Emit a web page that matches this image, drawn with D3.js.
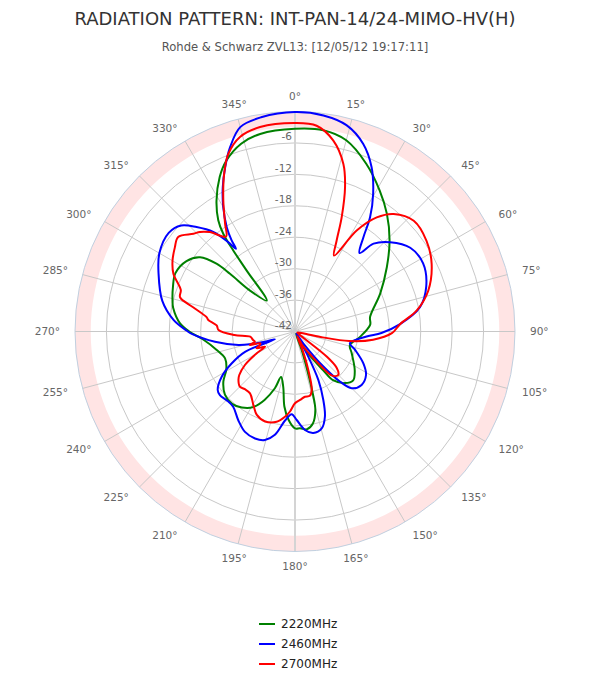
<!DOCTYPE html>
<html>
<head>
<meta charset="utf-8">
<script src="https://cdn.jsdelivr.net/npm/d3@7"></script>
<style>
  html, body { margin: 0; padding: 0; background: #fff; }
  svg { display: block; font-family: "DejaVu Sans", sans-serif; }
</style>
</head>
<body>
<svg id="chart" width="590" height="688"></svg>
<script>
// ---------- data ----------
const titleText = "RADIATION PATTERN: INT-PAN-14/24-MIMO-HV(H)";
const subtitleText = "Rohde & Schwarz ZVL13: [12/05/12 19:17:11]";

const seriesNames = ["2220MHz", "2460MHz", "2700MHz"];
const seriesColors = ["#008000", "#0000ff", "#ff0000"];

const radialTicks = [-42, -36, -30, -24, -18, -12, -6];
const radialMin = -42, radialMax = 0;
const plotBand = [-3, 0];
const angleTicks = [0,15,30,45,60,75,90,105,120,135,150,165,180,195,210,225,240,255,270,285,300,315,330,345];

const angles2220 = [0,8,15,23,31,38,46,55,66,79,85,95,104,111,123,130,136,142,144,150,156,160,162.5,164,165.5,169,173,177,180,184,188,192,197,199.5,204,209,215,221,228,235,241,249,257,265,270,274,281,284,290,296,303,308,310.8,311.6,312.3,317.6,321.6,322.7,323.7,325.4,329,334,338,344,350];
const db2220 = [-3.3,-3.2,-4.2,-7.2,-10.6,-13.5,-16.9,-20.6,-24.2,-27.4,-27.6,-29.6,-31.2,-30.4,-28.4,-27.5,-28.3,-30.2,-32.9,-37.6,-41.5,-38.5,-34,-29.7,-26.5,-24.1,-23.2,-23.5,-23.5,-25,-27.5,-31.2,-32.9,-30.5,-27.7,-25.5,-24.3,-23.7,-24,-25.3,-27,-27.7,-26.6,-24.4,-21.8,-20,-18.3,-17.9,-17.2,-16.6,-17.3,-19,-22.2,-25.4,-30.4,-34,-27.1,-22.6,-18.9,-16.2,-12.9,-9.2,-6.9,-4.7,-3.7];

const angles2460 = [0,7.5,14,20,25,29.6,33.3,36,39.4,41.8,46.8,54,62,71,79,86,91,94,102,107,115,121.5,128.7,135,138,141,145,150,152.2,154.3,157.5,160.6,164.6,169.8,174.2,178.9,182.3,186.4,191,195.5,200.5,206.5,212.6,219.4,224.9,229.7,232.9,238.4,243.3,247.8,248.7,251.2,253.9,256.6,262.7,268.5,270.5,275.5,283,293,300,308,313,316.7,320.6,323.2,324.5,325.2,326.8,330,333.4,337,340.6,345,351];
const db2460 = [-0.1,-0.4,-1.4,-3.9,-7.4,-11.8,-15.9,-19.8,-22.6,-19.5,-17.1,-14.8,-14.3,-15.5,-17.7,-21.9,-25.5,-28.3,-31.3,-30,-27.6,-26.1,-25.7,-26.7,-29.1,-33.4,-39.2,-41.5,-36.6,-31.7,-27.9,-24.8,-22.8,-22.3,-23.1,-25.1,-26.2,-24.9,-21.9,-20.5,-20.2,-20.6,-21.9,-23.4,-23.5,-23.2,-23.5,-25.6,-28.5,-31.7,-37.9,-35.9,-33.4,-30.9,-26.6,-22.4,-21.3,-18.7,-16,-13.7,-12.1,-11.4,-12.3,-14.6,-17.4,-20.7,-22.6,-20.8,-18.2,-14.6,-11.2,-7.9,-4.7,-1.6,-0.6];

const angles2700 = [0,6,11.3,16.1,19.1,22.2,24.6,27.2,31.4,35.6,40,47,55.4,63.7,73,80.2,86,91,96,100,102,105,115,125,128.3,131,135,140,143.3,147,151.4,155,158,160.9,164,167,171.3,175.8,180,183.6,186.7,191.5,198.4,204.6,209.6,216,221,225,229.5,232,236.2,240.4,243.1,246.3,249,251.4,253.3,255.7,259,263.4,266.7,271.1,274.4,277.6,279.2,283.4,286.6,290,295.4,300,305,309,313.9,316.3,319.4,324,327,331.3,335.8,339.4,344.2,350.3];
const db2700 = [-2.2,-2.5,-4.8,-8.7,-12.8,-18.4,-22.9,-25.7,-19.4,-15.2,-12.7,-11,-11.5,-12.9,-15.4,-18.4,-21.9,-23.5,-27,-31.5,-37,-41,-41.5,-41,-34.3,-31.5,-30.3,-31,-34,-37,-38.7,-41,-38,-34.2,-30.4,-29.4,-29.4,-28.9,-28.3,-26.7,-25.6,-24.4,-23.9,-24.5,-25.9,-27.4,-27.4,-27.1,-27.8,-28.5,-30.5,-33.6,-35.6,-34,-34.8,-35,-33,-34.1,-33.8,-33.4,-30.4,-27.4,-27,-25.3,-24.9,-22,-19.1,-18.8,-16.3,-15,-14,-13.3,-15.1,-15.7,-17,-19.6,-17.5,-13.5,-9,-5.8,-3.4,-2.4];

const seriesAngles = [angles2220, angles2460, angles2700];
const seriesValues = [db2220, db2460, db2700];

// ---------- layout ----------
const cx = 295, cy = 331.5, R = 220, labelR = 235;
const svg = d3.select("#chart");

const r = d3.scaleLinear().domain([radialMin, radialMax]).range([0, R]).clamp(true);
const toRad = d => d * Math.PI / 180;

// title
svg.append("text").attr("x", 295).attr("y", 25).attr("text-anchor", "middle")
  .attr("font-size", 18).attr("fill", "#333").text(titleText);
svg.append("text").attr("x", 295).attr("y", 51).attr("text-anchor", "middle")
  .attr("font-size", 11.6).attr("fill", "#555").text(subtitleText);

const g = svg.append("g").attr("transform", `translate(${cx},${cy})`);

// plot band
const bandArc = d3.arc().innerRadius(r(plotBand[0])).outerRadius(r(plotBand[1]))
  .startAngle(0).endAngle(2 * Math.PI);
g.append("path").attr("d", bandArc()).attr("fill", "#ffe4e4");

// circular grid
g.selectAll("circle.grid").data(radialTicks.filter(t => t > radialMin))
  .join("circle").attr("class", "grid").attr("r", d => r(d))
  .attr("fill", "none").attr("stroke", "#c8c8c8").attr("stroke-width", 1);

// spokes
g.selectAll("line.spoke").data(angleTicks).join("line").attr("class", "spoke")
  .attr("x1", 0).attr("y1", 0)
  .attr("x2", d => R * Math.sin(toRad(d)))
  .attr("y2", d => -R * Math.cos(toRad(d)))
  .attr("stroke", d => (d === 0 || d === 180) ? "#d4d4d4" : "#c8c8c8")
  .attr("stroke-width", d => (d === 0 || d === 180) ? 2 : 1);

// outer circle
g.append("circle").attr("r", R).attr("fill", "none").attr("stroke", "#c0d0e0").attr("stroke-width", 1);

// angle labels
g.selectAll("text.alab").data(angleTicks).join("text").attr("class", "alab")
  .attr("x", d => labelR * Math.sin(toRad(d)))
  .attr("y", d => -labelR * Math.cos(toRad(d)))
  .attr("dy", "0.36em")
  .attr("text-anchor", d => (d > 20 && d < 160) ? "start" : (d > 200 && d < 340) ? "end" : "middle")
  .attr("font-size", 10.5).attr("fill", "#666")
  .text(d => d + "°");

// series
const line = d3.lineRadial()
  .angle(d => toRad(d[0]))
  .radius(d => r(d[1]))
  .curve(d3.curveCatmullRomClosed.alpha(0.5));

seriesNames.forEach((name, i) => {
  const pts = seriesAngles[i].map((a, j) => [a, seriesValues[i][j]]);
  g.append("path").attr("d", line(pts)).attr("fill", "none")
    .attr("stroke", seriesColors[i]).attr("stroke-width", 2)
    .attr("stroke-linejoin", "round");
});

// radial labels (on top)
g.selectAll("text.rlab").data(radialTicks).join("text").attr("class", "rlab")
  .attr("x", -3).attr("y", d => -r(d) - 2.5)
  .attr("text-anchor", "end").attr("font-size", 10.5).attr("fill", "#666")
  .text(d => d);

// legend
const legend = svg.append("g");
seriesNames.forEach((name, i) => {
  const y = 624 + i * 20;
  legend.append("line").attr("x1", 259).attr("x2", 275).attr("y1", y).attr("y2", y)
    .attr("stroke", seriesColors[i]).attr("stroke-width", 2);
  legend.append("text").attr("x", 281).attr("y", y + 4.3).attr("font-size", 12)
    .attr("fill", "#222").text(name);
});
</script>
</body>
</html>
